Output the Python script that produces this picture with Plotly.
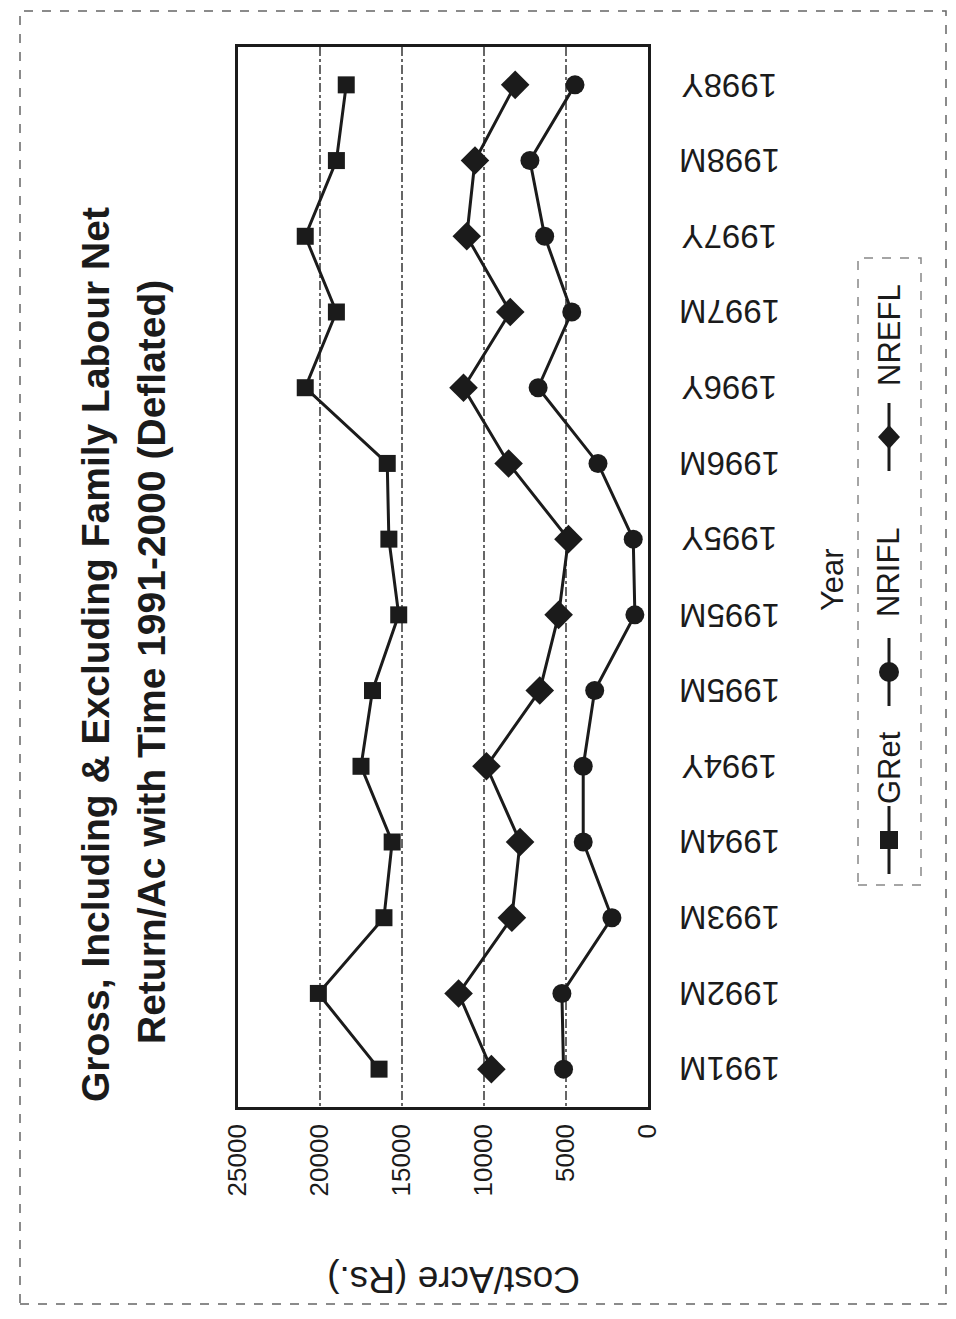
import plotly.graph_objects as go

# ---- data ----
categories = ["1991M", "1992M", "1993M", "1994M", "1994Y", "1995M", "1995M",
              "1995Y", "1996M", "1996Y", "1997M", "1997Y", "1998M", "1998Y"]
gret = [16400, 20100, 16100, 15600, 17500, 16800, 15200,
        15800, 15900, 20900, 19000, 20900, 19000, 18400]
nrifl = [5150, 5250, 2200, 3950, 3950, 3250, 800,
         900, 3050, 6700, 4650, 6300, 7200, 4450]
nrefl = [9550, 11550, 8300, 7800, 9850, 6600, 5450,
         4850, 8500, 11250, 8400, 11050, 10550, 8100]
value_ticks = [0, 5000, 10000, 15000, 20000, 25000]
series_names = ["GRet", "NRIFL", "NREFL"]
title_lines = ["Gross, Including & Excluding Family Labour Net",
               "Return/Ac with Time 1991-2000 (Deflated)"]
axis_title = "Cost/Acre (Rs.)"
cat_title = "Year"

FONT = "Liberation Sans, Arial, sans-serif"
INK = "#1b1b1b"
W, H = 956, 1319
L, R, T, B = 238, 648, 47, 1107  # plot box in pixels


def px(x):
    return (x - L) / (R - L)


def py(y):
    return (B - y) / (B - T)


pos = list(range(len(categories)))
fig = go.Figure()
symbols = ["square", "circle", "diamond"]
sizes = [17, 19, 22]
for name, vals, sym, sz in zip(series_names, [gret, nrifl, nrefl], symbols, sizes):
    fig.add_trace(go.Scatter(
        x=vals, y=pos, mode="lines+markers", name=name,
        line=dict(color=INK, width=3),
        marker=dict(symbol=sym, size=sz, color=INK),
        showlegend=False,
    ))

fig.update_layout(
    width=W, height=H,
    margin=dict(l=L, r=W - R, t=T, b=H - B, pad=0),
    paper_bgcolor="white", plot_bgcolor="white",
    font=dict(family=FONT, color=INK),
)
fig.update_xaxes(
    range=[25000, 0], tickvals=value_ticks, ticktext=[str(v) for v in value_ticks],
    tickangle=-90, tickfont=dict(size=26, family=FONT, color=INK),
    ticks="outside", ticklen=4, tickcolor="rgba(0,0,0,0)",
    showgrid=True, gridcolor="#666", griddash="dashdot", gridwidth=1.5,
    zeroline=False, showline=True, mirror=True, linecolor=INK, linewidth=2.5,
)
fig.update_yaxes(
    range=[-0.5, len(categories) - 0.5], tickvals=pos, showticklabels=False,
    ticks="", showgrid=False, zeroline=False, showline=True, mirror=True,
    linecolor=INK, linewidth=2.5,
)


def note(text, x, y, size, angle, bold=False):
    return dict(text=("<b>%s</b>" % text) if bold else text,
                x=px(x), y=py(y), xref="paper", yref="paper",
                xanchor="center", yanchor="middle", showarrow=False,
                textangle=angle, font=dict(size=size, family=FONT, color=INK))


ann = [
    note(title_lines[0], 95, 655, 39, -90, bold=True),
    note(title_lines[1], 151, 662, 39, -90, bold=True),
    note(axis_title, 454, 1280, 37, 180),
    note(cat_title, 833, 580, 31, -90),
]
# category labels (upside down, as in the scanned page), placed on the data scale
for i, lab in zip(pos, categories):
    ann.append(dict(text=lab, x=px(730), y=i, xref="paper", yref="y",
                    xanchor="center", yanchor="middle", showarrow=False,
                    textangle=180, font=dict(size=33, family=FONT, color=INK)))

# manual rotated legend
shapes = []
leg_x = 889
leg_items = [  # (name, swatch centre y, text centre y, symbol)
    (series_names[0], 840, 768, "square"),
    (series_names[1], 672, 572, "circle"),
    (series_names[2], 437, 335, "diamond"),
]
for name, cy, ty, sym in leg_items:
    shapes.append(dict(type="line", xref="paper", yref="paper",
                       x0=px(leg_x), x1=px(leg_x), y0=py(cy + 34), y1=py(cy - 34),
                       line=dict(color=INK, width=3)))
    if sym == "square":
        shapes.append(dict(type="rect", xref="paper", yref="paper",
                           x0=px(leg_x - 9), x1=px(leg_x + 9), y0=py(cy + 9), y1=py(cy - 9),
                           fillcolor=INK, line=dict(width=0)))
    elif sym == "circle":
        shapes.append(dict(type="circle", xref="paper", yref="paper",
                           x0=px(leg_x - 10), x1=px(leg_x + 10), y0=py(cy + 10), y1=py(cy - 10),
                           fillcolor=INK, line=dict(width=0)))
    else:
        xs = [leg_x, leg_x + 11, leg_x, leg_x - 11]
        ys = [cy - 12, cy, cy + 12, cy]
        path = "M " + " L ".join("%f,%f" % (px(a), py(b)) for a, b in zip(xs, ys)) + " Z"
        shapes.append(dict(type="path", xref="paper", yref="paper", path=path,
                           fillcolor=INK, line=dict(width=0)))
    ann.append(note(name, leg_x, ty, 31, -90))
# legend frame (faint)
shapes.append(dict(type="rect", xref="paper", yref="paper",
                   x0=px(858), x1=px(921), y0=py(885), y1=py(258),
                   line=dict(color="#888", width=1.5, dash="dash")))
# scanned page frame
shapes.append(dict(type="rect", xref="paper", yref="paper",
                   x0=px(20), x1=px(946), y0=py(1304), y1=py(11),
                   line=dict(color="#666", width=1.5, dash="dash")))

fig.update_layout(annotations=ann, shapes=shapes)
fig.write_html("out.html", config={"displayModeBar": False},
               post_script="document.body.style.margin='0px';document.body.style.padding='0px';")
